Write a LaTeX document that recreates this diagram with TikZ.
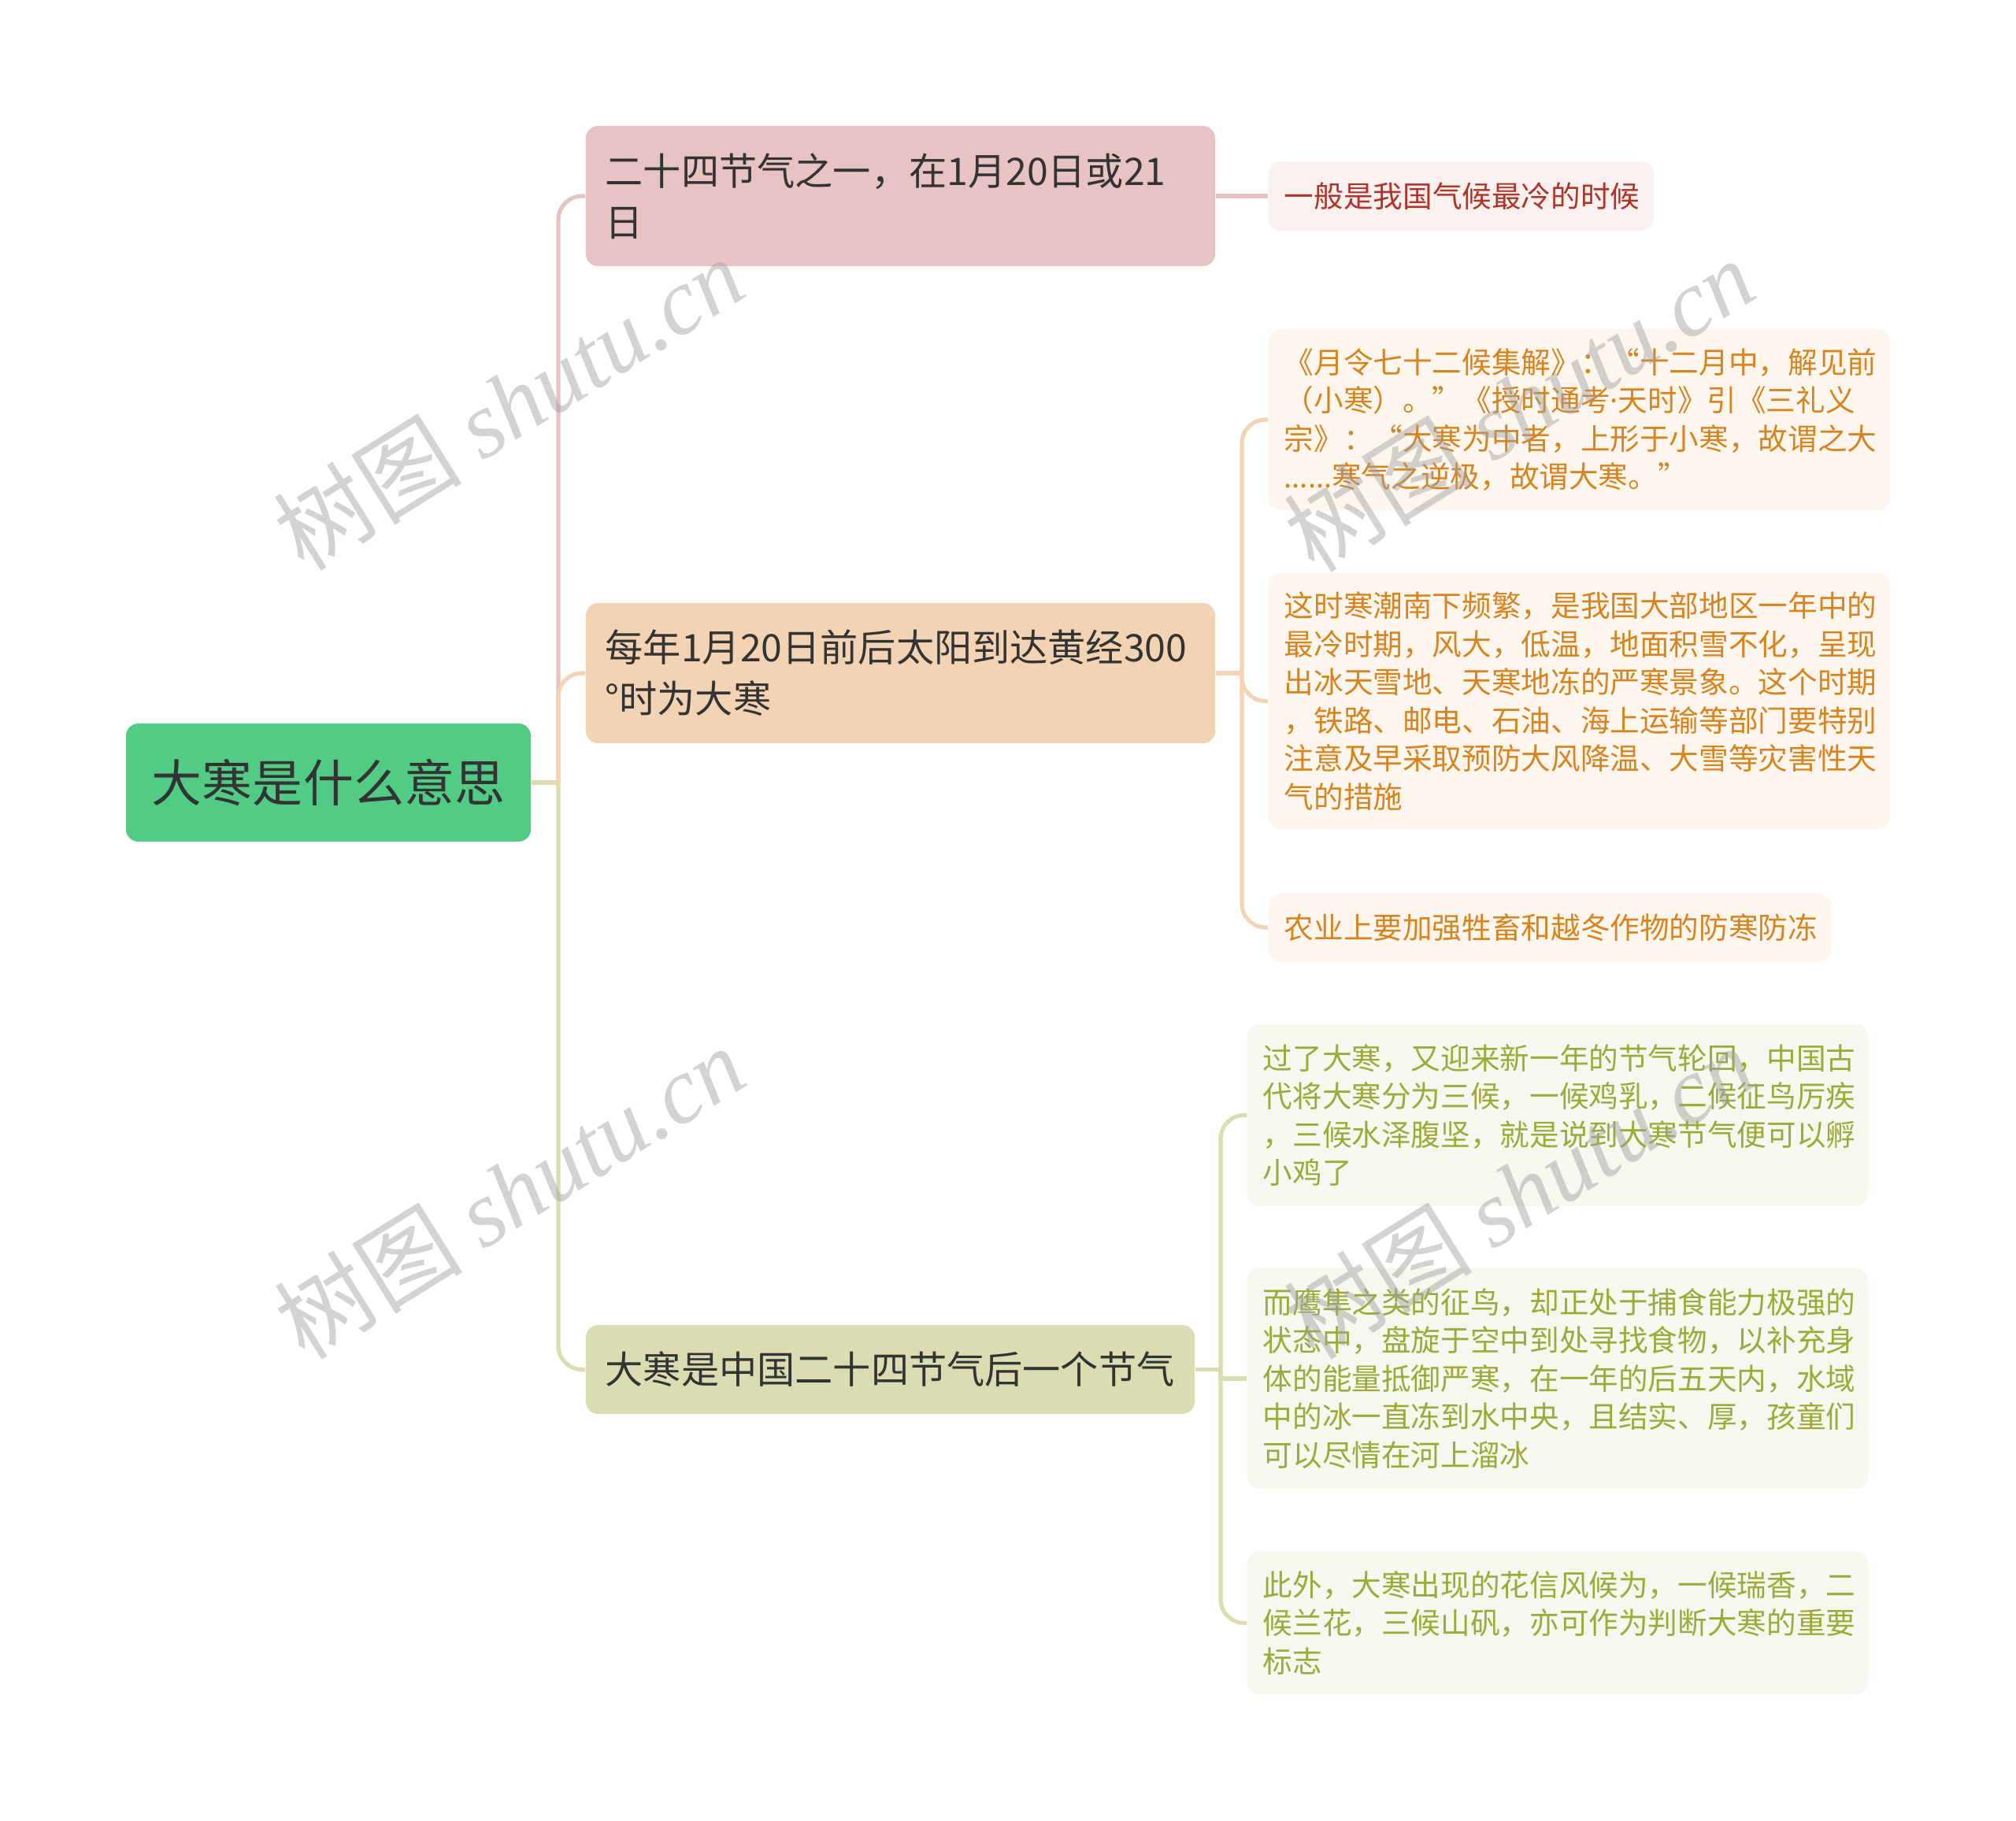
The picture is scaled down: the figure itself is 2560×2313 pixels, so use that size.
\documentclass[tikz,border=0pt]{standalone}
\usepackage{fontspec}
\setmainfont{Noto Sans CJK SC}
\newfontfamily\wmserif{Liberation Serif}
\newfontfamily\latinsans{Noto Sans}
\definecolor{rootfill}{HTML}{52CC84}
\definecolor{darktext}{HTML}{333333}
\definecolor{pinkfill}{HTML}{E8C3C3}
\definecolor{peachfill}{HTML}{F2D4B4}
\definecolor{olivefill}{HTML}{DADDB1}
\definecolor{pinkleaf}{HTML}{F9F0F0}
\definecolor{peachleaf}{HTML}{FDF6EE}
\definecolor{oliveleaf}{HTML}{F6F7EE}
\definecolor{redtext}{HTML}{B03328}
\definecolor{orangetext}{HTML}{D7841F}
\definecolor{olivetext}{HTML}{9CAA3A}
\tikzset{
  box/.style={rounded corners=0.16cm, inner sep=0pt, align=left},
  rootbox/.style={box, fill=rootfill, text=darktext, align=center,
    font=\fontsize{18.2pt}{22pt}\selectfont},
  branchbox/.style={box, text=darktext, font=\fontsize{13.7pt}{18.5pt}\selectfont},
  leafbox/.style={box, font=\fontsize{10.7pt}{13.8pt}\selectfont},
  link/.style={line width=1.45pt, rounded corners=0.3cm},
  wm/.style={text=black!38, text opacity=0.45, inner sep=0pt, rotate=32,
    font=\fontsize{34pt}{38pt}\selectfont}
}
\begin{document}
\begin{tikzpicture}[x=0.01cm, y=-0.01cm]
\fill[white] (0,0) rectangle (2560,2313);
\useasboundingbox (0,0) rectangle (2560,2313);

% root
\node[rootbox, minimum width=5.14cm, minimum height=1.50cm] (root) at (417,994) {大寒是什么意思};

% branches
\node[branchbox, fill=pinkfill, minimum width=7.99cm, minimum height=1.78cm, text width=7.49cm] (b1) at (1143.5,249)
  {二十四节气之一，在1月20日或21\\日};
\node[branchbox, fill=peachfill, minimum width=7.99cm, minimum height=1.78cm, text width=7.49cm] (b2) at (1143.5,855)
  {每年1月20日前后太阳到达黄经300\\°时为大寒};
\node[branchbox, fill=olivefill, minimum width=7.73cm, minimum height=1.13cm, text width=7.23cm] (b3) at (1130.5,1739.5)
  {大寒是中国二十四节气后一个节气};

% leaves of b1
\node[leafbox, fill=pinkleaf, text=redtext, minimum width=4.89cm, minimum height=0.88cm, text width=4.49cm] (l1) at (1855.5,249)
  {一般是我国气候最冷的时候};

% leaves of b2
\node[leafbox, fill=peachleaf, text=orangetext, minimum width=7.89cm, minimum height=2.30cm, text width=7.49cm] (l2a) at (2005.5,533)
  {《月令七十二候集解》：“十二月中，解见前\\（小寒）。”《授时通考{\latinsans ·}天时》引《三礼义\\宗》：“大寒为中者，上形于小寒，故谓之大\\{\latinsans ......}寒气之逆极，故谓大寒。”};
\node[leafbox, fill=peachleaf, text=orangetext, minimum width=7.89cm, minimum height=3.25cm, text width=7.49cm] (l2b) at (2005.5,890.5)
  {这时寒潮南下频繁，是我国大部地区一年中的\\最冷时期，风大，低温，地面积雪不化，呈现\\出冰天雪地、天寒地冻的严寒景象。这个时期\\，铁路、邮电、石油、海上运输等部门要特别\\注意及早采取预防大风降温、大雪等灾害性天\\气的措施};
\node[leafbox, fill=peachleaf, text=orangetext, minimum width=7.14cm, minimum height=0.86cm, text width=6.74cm] (l2c) at (1968,1178)
  {农业上要加强牲畜和越冬作物的防寒防冻};

% leaves of b3
\node[leafbox, fill=oliveleaf, text=olivetext, minimum width=7.88cm, minimum height=2.31cm, text width=7.48cm] (l3a) at (1978,1416.5)
  {过了大寒，又迎来新一年的节气轮回，中国古\\代将大寒分为三候，一候鸡乳，二候征鸟厉疾\\，三候水泽腹坚，就是说到大寒节气便可以孵\\小鸡了};
\node[leafbox, fill=oliveleaf, text=olivetext, minimum width=7.88cm, minimum height=2.80cm, text width=7.48cm] (l3b) at (1978,1751)
  {而鹰隼之类的征鸟，却正处于捕食能力极强的\\状态中，盘旋于空中到处寻找食物，以补充身\\体的能量抵御严寒，在一年的后五天内，水域\\中的冰一直冻到水中央，且结实、厚，孩童们\\可以尽情在河上溜冰};
\node[leafbox, fill=oliveleaf, text=olivetext, minimum width=7.88cm, minimum height=1.81cm, text width=7.48cm] (l3c) at (1978,2061.5)
  {此外，大寒出现的花信风候为，一候瑞香，二\\候兰花，三候山矾，亦可作为判断大寒的重要\\标志};

% junction points
\coordinate (j0) at (709,994);
\coordinate (j2) at (1577,855);
\coordinate (j3) at (1550,1739.5);

% connectors root -> branches
\draw[link, olivefill] (root.east) -- (j0);
\draw[link, pinkfill] (j0) -- (709,249) -- (b1.west);
\draw[link, peachfill] (j0) -- (709,855) -- (b2.west);
\draw[link, olivefill] (j0) -- (709,1739.5) -- (b3.west);

% b1 -> leaf
\draw[link, pinkfill] (b1.east) -- (l1.west);

% b2 -> leaves
\draw[link, peachfill] (b2.east) -- (j2);
\draw[link, peachfill] (j2) -- (1577,533) -- (l2a.west);
\draw[link, peachfill] (j2) -- (1577,890.5) -- (l2b.west);
\draw[link, peachfill] (j2) -- (1577,1178) -- (l2c.west);

% b3 -> leaves
\draw[link, olivefill] (b3.east) -- (j3);
\draw[link, olivefill] (j3) -- (1550,1416.5) -- (l3a.west);
\draw[link, olivefill, sharp corners] (j3) -- (1550,1751) -- (l3b.west);
\draw[link, olivefill] (j3) -- (1550,2061.5) -- (l3c.west);

% watermarks
\node[wm] (wm1) at (646,512) {树图 {\wmserif\itshape shutu.cn}};
\node[wm] (wm2) at (647,1514) {树图 {\wmserif\itshape shutu.cn}};
\node[wm] (wm3) at (1929,514) {树图 {\wmserif\itshape shutu.cn}};
\node[wm] (wm4) at (1929,1514) {树图 {\wmserif\itshape shutu.cn}};
\end{tikzpicture}
\end{document}
